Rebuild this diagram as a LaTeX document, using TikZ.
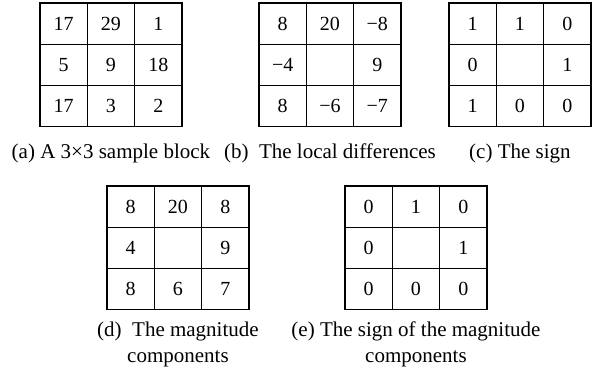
\documentclass[tikz,border=0pt]{standalone}
\usepackage{fontspec}
\setmainfont{Liberation Serif}
\usetikzlibrary{positioning}

\begin{document}
\begin{tikzpicture}[
  x=1pt, y=-1pt,
  node distance=15pt,
  cell/.style={rectangle, draw, line width=1.3pt, minimum width=47.3pt,
               minimum height=41.2pt, inner sep=0pt,
               font=\fontsize{20}{22}\selectfont},
  subcap/.style={font=\fontsize{21}{26}\selectfont, align=center, inner sep=0pt}
]
\useasboundingbox (0,0) rectangle (592,374);

% the five 3x3 blocks, cells named <block><index>
\foreach \g/\gx/\gy/\vals in {
    a/40/3/{17,29,1,5,9,18,17,3,2},
    b/259/3/{8,20,−8,−4,{},9,8,−6,−7},
    c/449/3/{1,1,0,0,{},1,1,0,0},
    d/107/186/{8,20,8,4,{},9,8,6,7},
    e/345/186/{0,1,0,0,{},1,0,0,0}}{
  \foreach \v [count=\k from 0] in \vals {
    \pgfmathtruncatemacro{\row}{\k/3}
    \pgfmathtruncatemacro{\col}{mod(\k,3)}
    \node[cell] (\g\k) at ({\gx+47.3*(\col+0.5)}, {\gy+41.2*(\row+0.5)}) {\v};
  }
}

\node[subcap, below=16pt of a7]  (capa) {(a)\ A 3×3 sample block};
\node[subcap, below=16pt of b7]  (capb) {(b)\ \ The local differences};
\node[subcap, below=16pt of c7]  (capc) {(c)\ The sign};
\node[subcap, below=11pt of d7]  (capd) {(d)\ \ The magnitude\\components};
\node[subcap, below=11pt of e7]  (cape) {(e)\ The sign of the magnitude\\components};

\end{tikzpicture}
\end{document}
